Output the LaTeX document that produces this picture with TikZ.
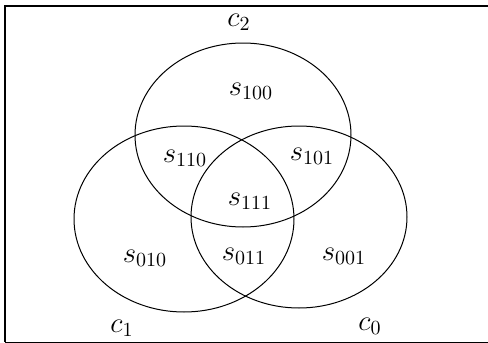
\documentclass[tikz,border=0pt]{standalone}
\usepackage{amsmath, amssymb}
\usepackage{tikz}

\begin{document}
\begin{tikzpicture}[x=0.5pt,y=-0.5pt,
  lbl/.style={font=\Large, inner sep=0pt}]
\useasboundingbox (0,0) rectangle (488,343);

% Draw universe rectangle
\draw[line width=0.7pt] (5,342) -- (5,6) -- (488,6);
\draw[line width=0.5pt] (5,342) -- (488,342);

% Draw the three sets
\draw[line width=0.5pt] (243,135) ellipse [x radius=54pt, y radius=46pt];
\draw[line width=0.5pt] (184,219) ellipse [x radius=55pt, y radius=46.5pt];
\draw[line width=0.5pt] (299,217) ellipse [x radius=54pt, y radius=45.5pt];

% Set names
\node[lbl] (c2) at (239,22) {$c_2$};
\node[lbl] (c1) at (122,328) {$c_1$};
\node[lbl] (c0) at (370,326) {$c_0$};

% Regions
\node[lbl] (s100) at (251,91) {$s_{100}$};
\node[lbl] (s110) at (185,158) {$s_{110}$};
\node[lbl] (s101) at (312,156) {$s_{101}$};
\node[lbl] (s111) at (250,201) {$s_{111}$};
\node[lbl] (s010) at (145,258) {$s_{010}$};
\node[lbl] (s011) at (244,256) {$s_{011}$};
\node[lbl] (s001) at (344,256) {$s_{001}$};
\end{tikzpicture}
\end{document}
